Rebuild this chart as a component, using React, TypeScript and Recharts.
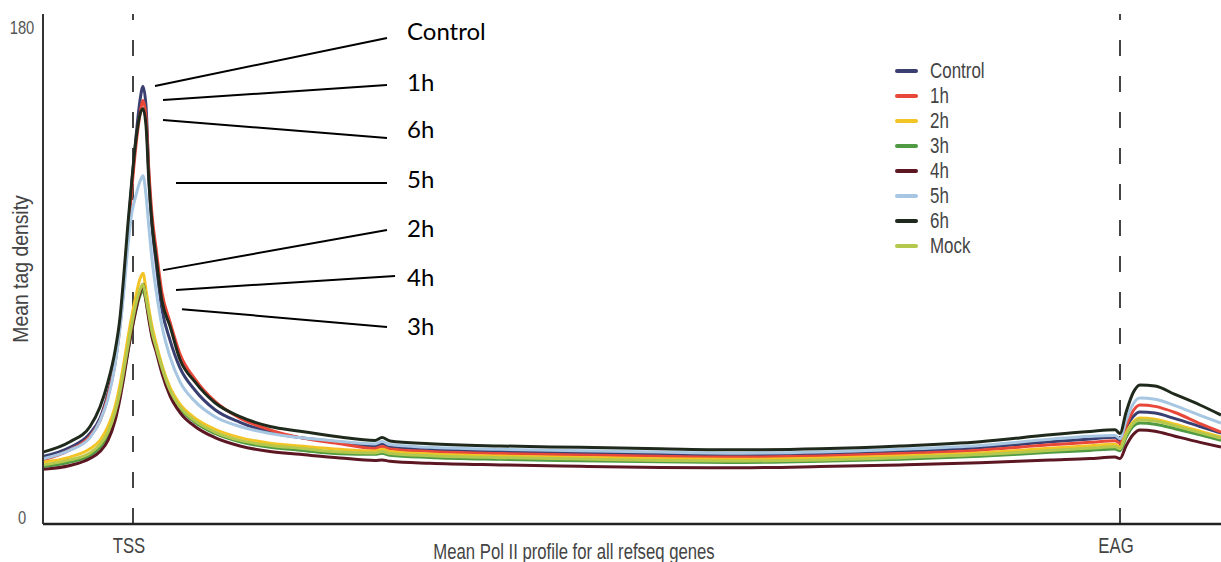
import React from 'react';
import { LineChart, Line, XAxis, YAxis, ReferenceLine, ReferenceDot, Legend } from 'recharts';

// Position along the meta-gene profile (bins); TSS at 90, EAG at 1077
const positions = [0, 27, 47, 57, 65, 72, 77, 81, 85, 89, 93, 97, 100, 103, 106, 109, 113, 119, 127, 137, 152, 172, 197, 227, 257, 297, 332, 339, 347, 387, 457, 537, 617, 697, 777, 857, 937, 1007, 1047, 1072, 1077, 1083, 1090, 1097, 1112, 1132, 1157, 1178];

const control = [24.2, 27.5, 32.5, 38, 47, 58, 72, 87, 105, 123, 139, 152, 157, 150, 124, 107, 94, 77, 66, 56, 48, 41, 36.5, 33, 31, 29.4, 28, 28.8, 27.8, 26.8, 26.1, 25.6, 25.1, 24.8, 25.2, 26.1, 27.4, 29.5, 30.5, 31.1, 30, 34.5, 38.5, 40.2, 39.8, 37.8, 35, 32.6];
const h1 = [23.0, 26.6, 31.5, 37, 46, 57.5, 71, 86, 104, 121, 136, 147, 152, 146, 126, 111, 99, 83, 72.5, 61, 52, 44, 38, 33.8, 31, 28.8, 27.1, 27.8, 26.9, 26, 25.3, 24.8, 24.3, 24, 24.4, 25.3, 26.5, 28.4, 29.3, 29.9, 29, 35, 40.5, 42.7, 42.2, 40, 36, 33];
const h2 = [22.2, 24, 27, 30, 35, 42, 50, 58, 67, 75, 82, 88, 90, 84, 77, 71, 65, 57, 49, 43, 38, 34, 31, 29, 28, 26.8, 26.2, 26.8, 26, 25.1, 24.4, 23.9, 23.4, 23.2, 23.6, 24.4, 25.5, 27.2, 28.1, 28.6, 27.6, 32.5, 36.5, 38, 37.6, 35.8, 33.3, 31.2];
const h3 = [20.6, 22.2, 24.5, 27.5, 32, 39, 46.5, 54, 62, 70, 77, 82, 84, 80, 74, 68, 63, 55.5, 47.5, 41.5, 36.5, 32.5, 29.5, 27.5, 26.5, 25.2, 25, 25.4, 24.7, 23.9, 23.2, 22.7, 22.3, 22.1, 22.5, 23.2, 24.3, 25.7, 26.4, 26.9, 26.3, 31, 35, 36.2, 35.8, 34.2, 32, 30];
const h4 = [19.6, 21, 23.5, 26, 30, 37, 45, 53, 62, 70, 77, 83, 86, 80, 73, 67, 62, 54, 46, 40, 35, 31, 28, 26, 25, 23.7, 22.8, 23, 22.5, 21.8, 21.2, 20.7, 20.3, 20.2, 20.6, 21.2, 22, 23, 23.5, 24, 23.5, 28, 32, 33.7, 33.3, 31.5, 29.3, 27.6];
const h5 = [23.4, 26.5, 31, 37, 45, 57, 70, 84, 100, 112, 118, 123, 125, 118, 106, 95, 84, 71, 60, 51, 44, 38.5, 35, 32.5, 31, 29.6, 28.7, 29.6, 28.5, 27.5, 26.8, 26.3, 25.8, 25.4, 25.8, 26.8, 28.2, 30.4, 31.5, 31.8, 30.6, 37, 43, 45.2, 44.8, 42.5, 39, 36.2];
const h6 = [25.8, 29.5, 35, 42, 51, 62, 74, 90, 108, 124, 138, 147, 149, 143, 122, 108, 96, 80, 71, 59, 51, 43.5, 38.5, 35, 33.3, 31.2, 30, 31, 29.8, 28.8, 28, 27.5, 27, 26.6, 27, 28, 29.5, 32, 33.2, 33.8, 32.5, 40, 47, 49.9, 49.5, 46.5, 42.7, 39.1];
const mock = [21.2, 23, 25.5, 28.5, 33, 40, 47.5, 55.5, 64, 72, 79, 84, 86, 81, 75, 69, 63.5, 56, 48, 42, 37, 33, 30, 28.2, 27.2, 25.8, 25.5, 26, 25.3, 24.5, 23.8, 23.3, 22.8, 22.6, 23, 23.8, 24.9, 26.4, 27.2, 27.7, 27, 32, 36, 37.3, 37, 35.2, 32.8, 30.8];

const seriesNames = ['Control', '1h', '2h', '3h', '4h', '5h', '6h', 'Mock'];
const seriesValues = [control, h1, h2, h3, h4, h5, h6, mock];
const seriesColors = ['#3a3f72', '#e8483a', '#f2c426', '#4f9a43', '#5c1722', '#a6c6e2', '#1f2a1c', '#b3c84c'];

const xTickValues = [90, 1077];
const xTickLabels = ['TSS', 'EAG'];
const yTickValues = [0, 180];

// Callout annotations (data coordinates)
const calloutNames = ['Control', '1h', '6h', '5h', '2h', '4h', '3h'];
const calloutFrom = [[112, 157.2], [120, 152.1], [120, 145], [133, 122.4], [120, 91.1], [133, 84], [139, 77.1]];
const calloutTo = [[344, 174.4], [344, 157.5], [344, 138.5], [344, 122.4], [344, 105.5], [352, 89], [344, 70.7]];
const calloutLabelY = [176.7, 158.3, 141.4, 123.8, 106.2, 88.3, 71.0];
const calloutLabelX = 364;

const data = positions.map((x, i) => {
  const row: Record<string, number> = { x };
  seriesNames.forEach((n, s) => {
    row[n] = seriesValues[s][i];
  });
  return row;
});

const SANS = '"Liberation Sans", Arial, sans-serif';

const NarrowText = (p: { x: number; y: number; text: string; size: number; sx: number; anchor?: string; fill?: string; rotate?: number }) => (
  <text
    transform={`translate(${p.x},${p.y}) rotate(${p.rotate || 0}) scale(${p.sx},1)`}
    textAnchor={(p.anchor as any) || 'middle'}
    dominantBaseline="central"
    fontSize={p.size}
    fontFamily={SANS}
    fill={p.fill || '#444'}
  >
    {p.text}
  </text>
);

const LegendContent = (props: any) => {
  const items = [...(props.payload || [])].sort(
    (a: any, b: any) => seriesNames.indexOf(a.value) - seriesNames.indexOf(b.value)
  );
  return (
    <div style={{ fontFamily: SANS, fontSize: 22, color: '#444' }}>
      {items.map((p: any) => (
        <div key={p.value} style={{ display: 'flex', alignItems: 'center', height: 25.1, whiteSpace: 'nowrap' }}>
          <span style={{ display: 'inline-block', width: 23, height: 4, background: p.color, marginRight: 12, borderRadius: 2 }} />
          <span style={{ display: 'inline-block', transform: 'scaleX(0.77)', transformOrigin: 'left center' }}>{p.value}</span>
        </div>
      ))}
    </div>
  );
};

const YTick = (props: any) => {
  const { y, payload } = props;
  const dy = payload.value === 0 ? -7 : 5;
  return <NarrowText x={22} y={y + dy} text={String(payload.value)} size={18} sx={0.82} fill="#555" />;
};

const XTick = (props: any) => {
  const { x, y, payload } = props;
  const label = xTickLabels[xTickValues.indexOf(payload.value)] ?? '';
  return <NarrowText x={x - 4} y={y + 21} text={label} size={22} sx={0.76} />;
};

const XTitle = (props: any) => {
  const vb = props.viewBox || { x: 43, y: 524, width: 1178, height: 38 };
  return <NarrowText x={vb.x + vb.width / 2 - 58} y={vb.y + 27} text="Mean Pol II profile for all refseq genes" size={22} sx={0.76} />;
};

const YTitle = (props: any) => {
  const vb = props.viewBox || { x: 0, y: 14, width: 43, height: 510 };
  return <NarrowText x={vb.x + 20} y={vb.y + vb.height / 2} text="Mean tag density" size={22} sx={0.88} rotate={-90} />;
};

export default function App() {
  return (
    <div style={{ position: 'absolute', left: 0, top: 0, width: 1221, height: 562, background: '#fff' }}>
      <LineChart width={1221} height={562} data={data} margin={{ top: 14, right: 0, bottom: 0, left: 0 }}>
        <XAxis
          dataKey="x"
          type="number"
          domain={[0, 1178]}
          ticks={xTickValues}
          tickLine={false}
          tickSize={0}
          tickMargin={0}
          height={38}
          axisLine={{ stroke: '#222', strokeWidth: 2.5 }}
          tick={<XTick />}
          label={<XTitle />}
        />
        <YAxis
          type="number"
          domain={[0, 183]}
          ticks={yTickValues}
          width={43}
          tickLine={false}
          tickSize={0}
          axisLine={{ stroke: '#333', strokeWidth: 2 }}
          tick={<YTick />}
          label={<YTitle />}
        />
        <ReferenceLine x={90} stroke="#444" strokeWidth={2} strokeDasharray="16 20" />
        <ReferenceLine x={1077} stroke="#444" strokeWidth={2} strokeDasharray="16 20" />
        {seriesNames.map((n, s) => (
          <Line
            key={n}
            dataKey={n}
            name={n}
            type="monotone"
            stroke={seriesColors[s]}
            strokeWidth={3}
            dot={false}
            activeDot={false}
            isAnimationActive={false}
          />
        ))}
        {calloutNames.map((n, i) => (
          <ReferenceLine
            key={'cl' + n}
            segment={[{ x: calloutFrom[i][0], y: calloutFrom[i][1] }, { x: calloutTo[i][0], y: calloutTo[i][1] }]}
            stroke="#000"
            strokeWidth={2}
            ifOverflow="visible"
          />
        ))}
        {calloutNames.map((n, i) => (
          <ReferenceDot
            key={'cd' + n}
            x={calloutLabelX}
            y={calloutLabelY[i]}
            r={0}
            fill="none"
            stroke="none"
            ifOverflow="visible"
            label={{ value: n, position: 'right', offset: 0, style: { fontFamily: 'Lato, "Open Sans", sans-serif', fontSize: 24, fill: '#000' } }}
          />
        ))}
        <Legend
          layout="vertical"
          align="center"
          verticalAlign="middle"
          content={<LegendContent />}
          wrapperStyle={{ position: 'absolute', left: 895, top: 58, width: 'auto', height: 'auto' }}
        />
      </LineChart>
    </div>
  );
}
